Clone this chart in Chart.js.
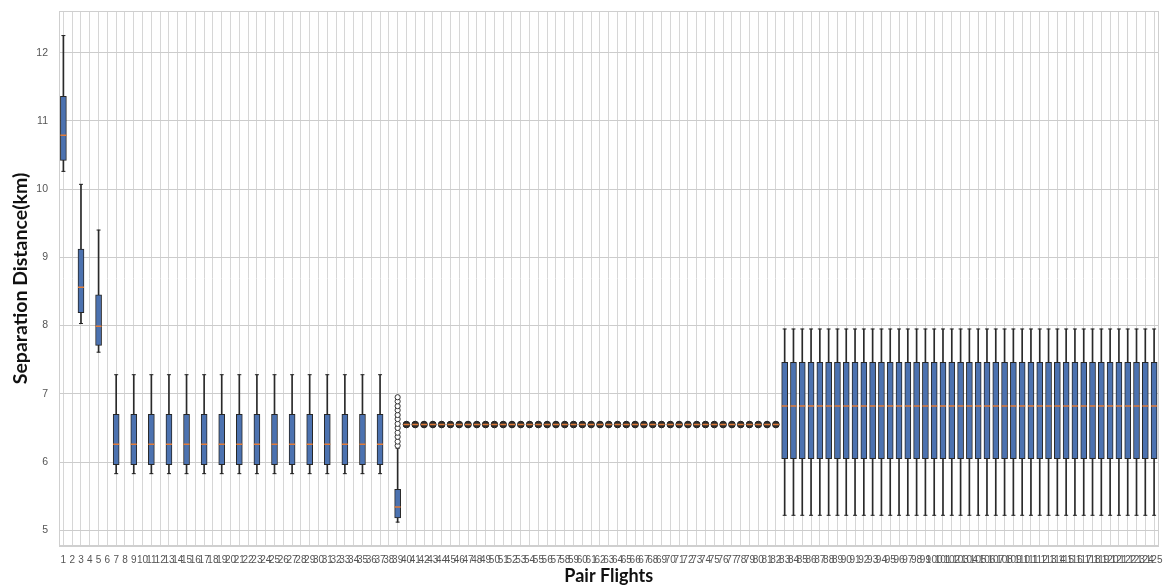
<!DOCTYPE html>
<html><head><meta charset="utf-8">
<script src="https://cdn.jsdelivr.net/npm/chart.js@4.4.1/dist/chart.umd.min.js"></script>
<style>html,body{margin:0;padding:0;background:#fff;}#wrap{width:1164px;height:588px;}</style>
</head><body><div id="wrap"><canvas id="c" width="1164" height="588"></canvas></div>
<script>
const categories = ['1','2','3','4','5','6','7','8','9','10','11','12','13','14','15','16','17','18','19','20',
'21','22','23','24','25','26','27','28','29','30','31','32','33','34','35','36','37','38','39','40',
'41','42','43','44','45','46','47','48','49','50','51','52','53','54','55','56','57','58','59','60',
'61','62','63','64','65','66','67','68','69','70','71','72','73','74','75','76','77','78','79','80',
'81','82','83','84','85','86','87','88','89','90','91','92','93','94','95','96','97','98','99','100',
'101','102','103','104','105','106','107','108','109','110','111','112','113','114','115','116','117','118','119','120',
'121','122','123','124','125'];

const whiskerLow = [
10.26,null,8.03,null,7.61,null,5.83,null,5.83,null,
5.83,null,5.83,null,5.83,null,5.83,null,5.83,null,
5.83,null,5.83,null,5.83,null,5.83,null,5.83,null,
5.83,null,5.83,null,5.83,null,5.83,null,5.12,6.55,
6.55,6.55,6.55,6.55,6.55,6.55,6.55,6.55,6.55,6.55,
6.55,6.55,6.55,6.55,6.55,6.55,6.55,6.55,6.55,6.55,
6.55,6.55,6.55,6.55,6.55,6.55,6.55,6.55,6.55,6.55,
6.55,6.55,6.55,6.55,6.55,6.55,6.55,6.55,6.55,6.55,
6.55,6.55,5.22,5.22,5.22,5.22,5.22,5.22,5.22,5.22,
5.22,5.22,5.22,5.22,5.22,5.22,5.22,5.22,5.22,5.22,
5.22,5.22,5.22,5.22,5.22,5.22,5.22,5.22,5.22,5.22,
5.22,5.22,5.22,5.22,5.22,5.22,5.22,5.22,5.22,5.22,
5.22,5.22,5.22,5.22,5.22];

const q1 = [
10.42,null,8.19,null,7.71,null,5.96,null,5.96,null,
5.96,null,5.96,null,5.96,null,5.96,null,5.96,null,
5.96,null,5.96,null,5.96,null,5.96,null,5.96,null,
5.96,null,5.96,null,5.96,null,5.96,null,5.18,6.55,
6.55,6.55,6.55,6.55,6.55,6.55,6.55,6.55,6.55,6.55,
6.55,6.55,6.55,6.55,6.55,6.55,6.55,6.55,6.55,6.55,
6.55,6.55,6.55,6.55,6.55,6.55,6.55,6.55,6.55,6.55,
6.55,6.55,6.55,6.55,6.55,6.55,6.55,6.55,6.55,6.55,
6.55,6.55,6.05,6.05,6.05,6.05,6.05,6.05,6.05,6.05,
6.05,6.05,6.05,6.05,6.05,6.05,6.05,6.05,6.05,6.05,
6.05,6.05,6.05,6.05,6.05,6.05,6.05,6.05,6.05,6.05,
6.05,6.05,6.05,6.05,6.05,6.05,6.05,6.05,6.05,6.05,
6.05,6.05,6.05,6.05,6.05];

const median = [
10.79,null,8.56,null,7.99,null,6.26,null,6.26,null,
6.26,null,6.26,null,6.26,null,6.26,null,6.26,null,
6.26,null,6.26,null,6.26,null,6.26,null,6.26,null,
6.26,null,6.26,null,6.26,null,6.26,null,5.34,6.55,
6.55,6.55,6.55,6.55,6.55,6.55,6.55,6.55,6.55,6.55,
6.55,6.55,6.55,6.55,6.55,6.55,6.55,6.55,6.55,6.55,
6.55,6.55,6.55,6.55,6.55,6.55,6.55,6.55,6.55,6.55,
6.55,6.55,6.55,6.55,6.55,6.55,6.55,6.55,6.55,6.55,
6.55,6.55,6.82,6.82,6.82,6.82,6.82,6.82,6.82,6.82,
6.82,6.82,6.82,6.82,6.82,6.82,6.82,6.82,6.82,6.82,
6.82,6.82,6.82,6.82,6.82,6.82,6.82,6.82,6.82,6.82,
6.82,6.82,6.82,6.82,6.82,6.82,6.82,6.82,6.82,6.82,
6.82,6.82,6.82,6.82,6.82];

const q3 = [
11.36,null,9.12,null,8.45,null,6.70,null,6.70,null,
6.70,null,6.70,null,6.70,null,6.70,null,6.70,null,
6.70,null,6.70,null,6.70,null,6.70,null,6.70,null,
6.70,null,6.70,null,6.70,null,6.70,null,5.60,6.55,
6.55,6.55,6.55,6.55,6.55,6.55,6.55,6.55,6.55,6.55,
6.55,6.55,6.55,6.55,6.55,6.55,6.55,6.55,6.55,6.55,
6.55,6.55,6.55,6.55,6.55,6.55,6.55,6.55,6.55,6.55,
6.55,6.55,6.55,6.55,6.55,6.55,6.55,6.55,6.55,6.55,
6.55,6.55,7.46,7.46,7.46,7.46,7.46,7.46,7.46,7.46,
7.46,7.46,7.46,7.46,7.46,7.46,7.46,7.46,7.46,7.46,
7.46,7.46,7.46,7.46,7.46,7.46,7.46,7.46,7.46,7.46,
7.46,7.46,7.46,7.46,7.46,7.46,7.46,7.46,7.46,7.46,
7.46,7.46,7.46,7.46,7.46];

const whiskerHigh = [
12.25,null,10.07,null,9.40,null,7.28,null,7.28,null,
7.28,null,7.28,null,7.28,null,7.28,null,7.28,null,
7.28,null,7.28,null,7.28,null,7.28,null,7.28,null,
7.28,null,7.28,null,7.28,null,7.28,null,6.20,6.55,
6.55,6.55,6.55,6.55,6.55,6.55,6.55,6.55,6.55,6.55,
6.55,6.55,6.55,6.55,6.55,6.55,6.55,6.55,6.55,6.55,
6.55,6.55,6.55,6.55,6.55,6.55,6.55,6.55,6.55,6.55,
6.55,6.55,6.55,6.55,6.55,6.55,6.55,6.55,6.55,6.55,
6.55,6.55,7.95,7.95,7.95,7.95,7.95,7.95,7.95,7.95,
7.95,7.95,7.95,7.95,7.95,7.95,7.95,7.95,7.95,7.95,
7.95,7.95,7.95,7.95,7.95,7.95,7.95,7.95,7.95,7.95,
7.95,7.95,7.95,7.95,7.95,7.95,7.95,7.95,7.95,7.95,
7.95,7.95,7.95,7.95,7.95];

const outlierCategory = ['39','39','39','39','39','39','39','39','39','39','39','39'];
const outlierValues = [6.24,6.30,6.37,6.43,6.50,6.56,6.63,6.69,6.76,6.82,6.89,6.95];

const yTicks = [5,6,7,8,9,10,11,12];

const isFlat = i => q1[i] !== null && q1[i] === q3[i];

const frame = {
  id: 'frame',
  beforeDatasetsDraw(chart) {
    const {ctx, chartArea: a} = chart;
    ctx.save();
    ctx.strokeStyle = '#cfcfcf';
    ctx.lineWidth = 1;
    ctx.strokeRect(Math.round(a.left) + 0.5, Math.round(a.top) + 0.5,
                   Math.round(a.right - a.left) - 1, Math.round(a.bottom - a.top) - 1);
    ctx.restore();
  }
};

new Chart(document.getElementById('c'), {
  type: 'bar',
  data: {
    labels: categories,
    datasets: [
      { type: 'line', label: 'outliers', order: 0, showLine: false,
        data: outlierValues.map((v, i) => ({x: outlierCategory[i], y: v})),
        pointStyle: 'circle', pointRadius: 2.6, pointBorderWidth: 1,
        pointBackgroundColor: '#ffffff', pointBorderColor: '#333333' },
      { type: 'line', label: 'median', order: 1, showLine: false,
        data: median,
        pointStyle: 'line', pointRadius: 3, pointBorderWidth: 1.5,
        pointBorderColor: '#e07b39', pointBackgroundColor: '#e07b39' },
      { type: 'line', label: 'flat', order: 2, showLine: false,
        data: median.map((m, i) => isFlat(i) ? m : null),
        pointStyle: 'circle', pointRadius: 3.3, pointBorderWidth: 1,
        pointBorderColor: '#1e1e1e', pointBackgroundColor: '#2e2e2e' },
      { type: 'line', label: 'capHigh', order: 3, showLine: false,
        data: whiskerHigh.map((v, i) => isFlat(i) ? null : v),
        pointStyle: 'line', pointRadius: 2, pointBorderWidth: 1,
        pointBorderColor: '#222222' },
      { type: 'line', label: 'capLow', order: 3, showLine: false,
        data: whiskerLow.map((v, i) => isFlat(i) ? null : v),
        pointStyle: 'line', pointRadius: 2, pointBorderWidth: 1,
        pointBorderColor: '#222222' },
      { type: 'bar', label: 'box', order: 4, grouped: false,
        data: q1.map((v, i) => (v === null || isFlat(i)) ? null : [v, q3[i]]),
        backgroundColor: '#4c72b0', borderColor: '#262626', borderWidth: 1,
        borderSkipped: false, barThickness: 6 },
      { type: 'bar', label: 'whisker', order: 5, grouped: false,
        data: whiskerLow.map((v, i) => (v === null || isFlat(i)) ? null : [v, whiskerHigh[i]]),
        backgroundColor: '#2a2a2a', borderWidth: 0, barThickness: 1 }
    ]
  },
  options: {
    responsive: false,
    animation: false,
    events: [],
    layout: { padding: { top: 11, right: 4, left: 0, bottom: 0 } },
    plugins: { legend: { display: false }, tooltip: { enabled: false } },
    scales: {
      x: {
        type: 'category',
        offset: true,
        grid: { offset: false, color: '#d6d6d6', drawTicks: false },
        border: { color: '#cfcfcf' },
        ticks: { autoSkip: false, maxRotation: 0, minRotation: 0, padding: 8,
                 color: '#555555', font: { family: 'Liberation Sans', size: 10 } },
        title: { display: true, text: 'Pair Flights', color: '#111111',
                 font: { family: 'Lato', size: 18, weight: 'bold' },
                 padding: { top: 0, bottom: 1 } },
        afterFit: s => { s.height = 42; s.paddingLeft = 0; s.paddingRight = 0; }
      },
      y: {
        min: 4.77, max: 12.61,
        grid: { color: '#cccccc', drawTicks: false },
        border: { color: '#cfcfcf' },
        afterBuildTicks: s => { s.ticks = yTicks.map(v => ({value: v})); },
        ticks: { stepSize: 1, includeBounds: false, padding: 11,
                 color: '#555555', font: { family: 'Liberation Sans', size: 10.5 } },
        title: { display: true, text: 'Separation Distance(km)', color: '#111111',
                 font: { family: 'Lato', size: 19.5, weight: 'bold' },
                 padding: { top: 9, bottom: 0 } },
        afterFit: s => { s.width = 59; s.paddingTop = 0; s.paddingBottom = 0; }
      }
    }
  },
  plugins: [frame]
});
</script></body></html>
